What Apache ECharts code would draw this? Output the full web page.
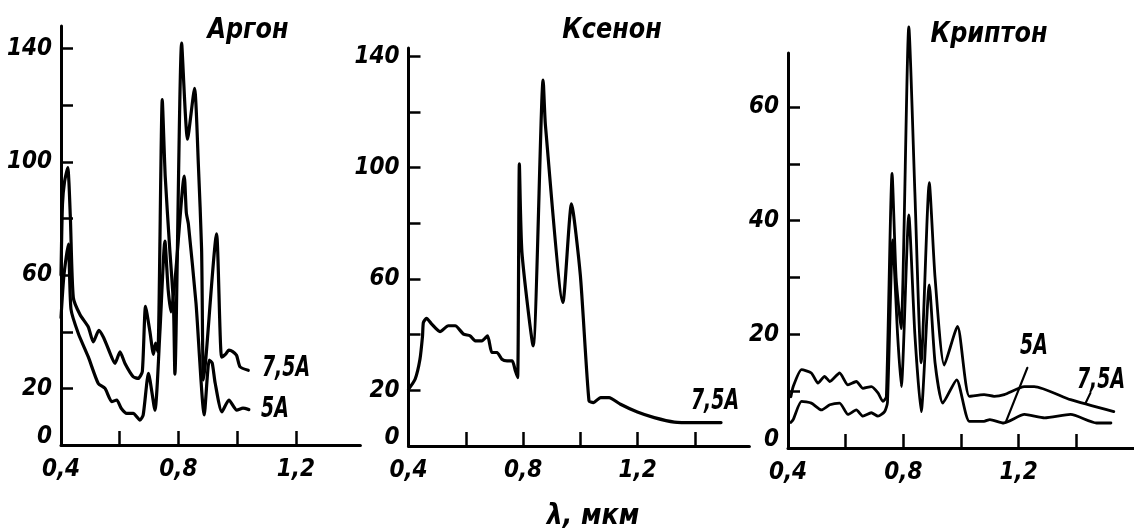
<!DOCTYPE html>
<html><head><meta charset="utf-8">
<script src="https://cdn.jsdelivr.net/npm/echarts@6/dist/echarts.min.js"></script>
<style>html,body{margin:0;padding:0;background:#fff}#c{width:1134px;height:532px}</style>
</head><body><div id="c"></div>
<script>
// ---------- DATA ----------
// Аргон, 7,5 А
const argonLam75 = [0.400,0.405,0.412,0.423,0.432,0.442,0.465,0.493,0.510,0.529,0.545,0.561,0.584,0.601,0.618,0.646,0.663,0.677,0.688,0.703,0.715,0.722,0.730,0.745,0.755,0.770,0.783,0.788,0.811,0.831,0.855,0.868,0.879,0.885,0.893,0.930,0.947,0.960,0.972,0.985,0.998,1.010,1.038];
const argonVal75 = [60,85,93,98,80,52,46,41.7,36.4,40.5,38,34,28.8,32.9,28.8,24.1,23.5,25.9,49,40,32,36,33,122,95,70,50,25,142,108,126,99,69,23,30,74.6,31,32,33.5,33,31.7,27.6,26.4];
// Аргон, 5 А
const argonLam5 = [0.400,0.410,0.425,0.434,0.459,0.493,0.527,0.550,0.573,0.590,0.605,0.624,0.646,0.669,0.680,0.698,0.720,0.737,0.754,0.765,0.775,0.790,0.820,0.827,0.834,0.860,0.888,0.905,0.915,0.925,0.948,0.972,0.999,1.020,1.040];
const argonVal5 = [45,60,71,48,39.4,31.1,21.7,20,15.3,15.9,13,11.2,11.2,8.8,10.6,25.3,12.3,40,72,55,47,60,95,82,78,50,10.6,30,29,22,11.7,15.9,12.3,13,12.5];
// Ксенон, 7,5 А
const xenonLam75 = [0.400,0.423,0.440,0.449,0.452,0.463,0.481,0.510,0.539,0.563,0.592,0.615,0.633,0.656,0.676,0.691,0.709,0.726,0.744,0.762,0.773,0.781,0.787,0.796,0.835,0.870,0.878,0.939,0.969,1.000,1.030,1.045,1.071,1.100,1.140,1.199,1.258,1.328,1.398,1.491];
const xenonVal75 = [20.4,24,31.2,39.6,44.4,45.9,43.8,41.1,43.2,43.2,40.2,39.6,37.8,37.8,39.6,33.6,33.6,31.2,30.6,30.6,27,24.6,101.4,69.6,36,131.5,115.2,51.6,87,61.2,16.2,15.6,17.4,17.4,15,12.2,10.2,8.6,8.4,8.4];
// Криптон, 7,5 А
const kryptonLam75 = [0.410,0.418,0.447,0.481,0.504,0.527,0.545,0.579,0.608,0.637,0.660,0.689,0.712,0.729,0.741,0.761,0.775,0.792,0.819,0.840,0.862,0.890,0.910,0.942,0.988,1.029,1.080,1.115,1.150,1.220,1.254,1.380,1.530];
const kryptonVal75 = [9,10.8,13.8,13.2,11.4,12.6,11.7,13.2,11.1,11.7,10.5,10.8,9.7,8.2,9,48.3,30,21,74.1,45,15,46.7,30,14.6,21.4,9.1,9.4,9.1,9.4,10.8,10.8,8.5,6.4];
// Криптон, 5 А
const kryptonLam5 = [0.410,0.418,0.447,0.481,0.516,0.545,0.579,0.608,0.637,0.660,0.689,0.712,0.735,0.745,0.763,0.780,0.793,0.819,0.840,0.862,0.890,0.910,0.937,0.985,1.029,1.080,1.100,1.148,1.220,1.290,1.380,1.470,1.520];
const kryptonVal5 = [4.5,5,8.2,7.9,6.7,7.6,7.9,5.9,6.7,5.6,6.2,5.6,6.4,8,36.6,20,10.8,41,20,6.4,28.7,15,7.9,12,4.7,4.7,5,4.4,5.9,5.3,5.9,4.4,4.4];
// leader lines of the Криптон labels
const kryptonLeader5 = [[1.230,14.1],[1.155,4.5]];
const kryptonLeader75 = [[1.449,9.7],[1.432,7.9]];
// tick values
const xTicksArgon = [0.6,0.8,1.0,1.2];
const xTicksOther = [0.6,0.8,1.0,1.2,1.4];
const xLabels = [0.4,0.8,1.2];
const yTicks140 = [20,40,60,80,100,120,140];
const yLabels140 = [0,20,60,100,140];
const yTicks60 = [10,20,30,40,50,60];
const yLabels60 = [0,20,40,60];
const titles = ['Аргон','Ксенон','Криптон'];
const axisName = 'λ, мкм';
const label75 = '7,5А', label5 = '5А';

// ---------- CHART ----------
const zip = (a,b) => a.map((x,i)=>[x,b[i]]);
const FONT = '"DejaVu Sans Condensed","Liberation Sans",sans-serif';
const tick = {fontFamily: FONT, fontStyle:'italic', fontWeight:'bold', fontSize:24, color:'#000'};
const fontStr = `italic bold 28px ${FONT}`;

const panels = [
  {grid:{left:61, top:26, width:299.4, height:419}, xMax:1.42, yMax:148, xTicks:xTicksArgon, yTicks:yTicks140, yLabels:yLabels140},
  {grid:{left:408.5, top:48, width:340.9, height:398}, xMax:1.59, yMax:143, xTicks:xTicksOther, yTicks:yTicks140, yLabels:yLabels140},
  {grid:{left:788, top:53, width:346.8, height:395}, xMax:1.6, yMax:69.5, xTicks:xTicksOther, yTicks:yTicks60, yLabels:yLabels60}
];
const axisLineStyle = {color:'#000', width:3};
const fmtX = v => v.toFixed(1).replace('.', ',');

const text = (t, x, y, sx) => ({type:'text', x, y, scaleX: sx, style:{text:t, font:fontStr, fill:'#000', textAlign:'center', textVerticalAlign:'middle'}});

const option = {
  animation:false,
  backgroundColor:'#fff',
  grid: panels.map(p => p.grid),
  xAxis: panels.map((p,i) => ({
    type:'value', gridIndex:i, min:0.4, max:p.xMax,
    axisLine:{show:true, onZero:false, lineStyle:axisLineStyle},
    axisTick:{show:true, inside:true, length:14, lineStyle:{color:'#000', width:2.5}, customValues:p.xTicks},
    axisLabel:{show:true, customValues:xLabels, formatter:fmtX, margin:13, ...tick},
    splitLine:{show:false}
  })),
  yAxis: panels.map((p,i) => ({
    type:'value', gridIndex:i, min:0, max:p.yMax,
    axisLine:{show:true, onZero:false, lineStyle:axisLineStyle},
    axisTick:{show:true, inside:true, length:12, lineStyle:{color:'#000', width:2.5}, customValues:p.yTicks},
    axisLabel:{show:true, customValues:p.yLabels, margin:9, ...tick,
      formatter: v => v === 0 ? '{z|0}' : String(v),
      rich:{z:{...tick, padding:[0,0,16,0]}}},
    splitLine:{show:false}
  })),
  series: [
    {idx:0, d:zip(argonLam75,argonVal75)},
    {idx:0, d:zip(argonLam5,argonVal5)},
    {idx:1, d:zip(xenonLam75,xenonVal75)},
    {idx:2, d:zip(kryptonLam75,kryptonVal75), w:2.8},
    {idx:2, d:zip(kryptonLam5,kryptonVal5), w:2.8},
    {idx:2, d:kryptonLeader5, w:2.2, sm:0},
    {idx:2, d:kryptonLeader75, w:2.2, sm:0}
  ].map(s => ({
    type:'line', xAxisIndex:s.idx, yAxisIndex:s.idx, data:s.d, clip:false,
    symbol:'none', silent:true, smooth: s.sm === 0 ? false : 0.2,
    lineStyle:{color:'#000', width:s.w || 3.2, join:'round', cap:'round'}
  })),
  graphic: [
    text(titles[0], 248, 31, 0.95),
    text(titles[1], 612, 31, 0.95),
    text(titles[2], 989, 35, 0.95),
    text(axisName, 593, 517, 1),
    text(label75, 286, 369, 0.75),
    text(label5, 275, 410, 0.75),
    text(label75, 715, 402, 0.75),
    text(label5, 1034, 347, 0.75),
    text(label75, 1101, 381, 0.75)
  ]
};
const chart = echarts.init(document.getElementById('c'), null, {renderer:'canvas'});
chart.setOption(option);
</script></body></html>
